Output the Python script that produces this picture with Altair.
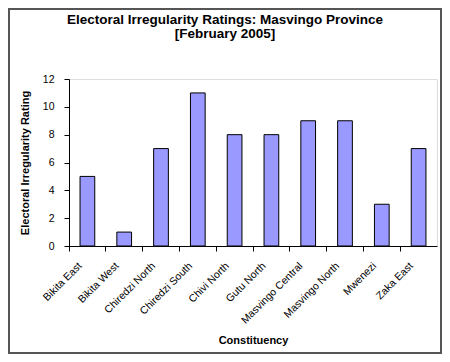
import altair as alt
import pandas as pd

constituencies = ["Bikita East", "Bikita West", "Chiredzi North", "Chiredzi South",
                  "Chivi North", "Gutu North", "Masvingo Central", "Masvingo North",
                  "Mwenezi", "Zaka East"]
ratings = [5, 1, 7, 11, 8, 8, 9, 9, 3, 7]
title_lines = ["Electoral Irregularity Ratings: Masvingo Province", "[February 2005]"]

df = pd.DataFrame({"Constituency": constituencies, "Rating": ratings})

FONT = "Liberation Sans"
W, H = 368, 167
PAD = {"left": 61, "top": 71, "right": 5, "bottom": 108}

bars = alt.Chart(df).mark_bar(
    color="#9999FF", stroke="black", strokeWidth=1, width={"band": 0.4}
).encode(
    x=alt.X("Constituency:N", sort=constituencies,
            scale=alt.Scale(paddingInner=0, paddingOuter=0),
            axis=alt.Axis(title="Constituency", labelAngle=-45, bandPosition=0,
                          labelBaseline="alphabetic", labelAlign="right",
                          labelOffset=-5,
                          tickSize=5, labelPadding=15, labelFontSize=10.5,
                          labelFont=FONT, labelColor="black",
                          titleFont=FONT, titleFontSize=11, titleFontWeight="bold",
                          titleColor="black", titlePadding=9,
                          domainColor="black", tickColor="black", grid=False)),
    y=alt.Y("Rating:Q", scale=alt.Scale(domain=[0, 12]),
            axis=alt.Axis(title="Electoral Irregularity Rating", values=list(range(0, 13, 2)),
                          tickSize=5, labelPadding=10, labelFontSize=10.5,
                          labelFont=FONT, labelColor="black",
                          titleFont=FONT, titleFontSize=11, titleFontWeight="bold",
                          titleColor="black", titlePadding=12,
                          domainColor="black", tickColor="black", grid=False)),
)

frame = alt.Chart(df).mark_rect(
    fill=None, stroke="#555555", strokeWidth=2, clip=False
).encode(
    x=alt.value(-PAD["left"] + 1), x2=alt.value(W + PAD["right"] - 1),
    y=alt.value(-PAD["top"] + 1), y2=alt.value(H + PAD["bottom"] - 1),
)

chart = alt.layer(bars, frame).properties(
    width=W, height=H,
    autosize=alt.AutoSizeParams(type="none"),
    padding=PAD,
    title=alt.TitleParams(text=title_lines, anchor="middle", dx=-28, offset=-43,
                          baseline="alphabetic",
                          font=FONT, fontSize=13.5, fontWeight="bold", color="black",
                          lineHeight=14),
).configure_view(stroke=None).configure(background="white")

chart.save("out.html", embed_options={"renderer": "svg", "actions": False})
